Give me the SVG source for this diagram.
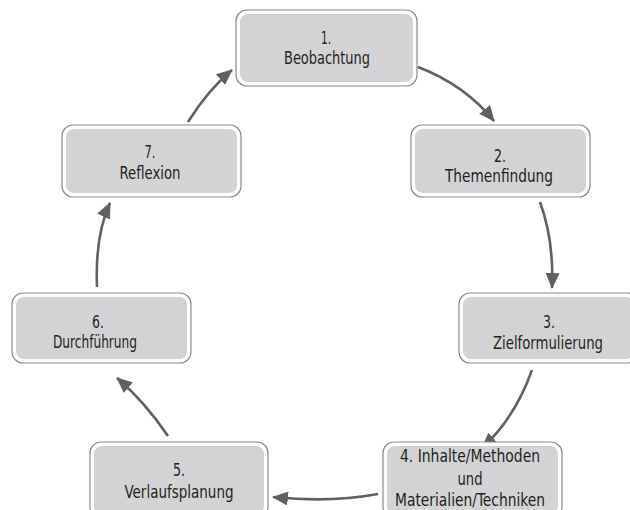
<svg xmlns="http://www.w3.org/2000/svg" width="630" height="510" viewBox="0 0 630 510">
<defs>
<marker id="ah" markerUnits="userSpaceOnUse" markerWidth="16" markerHeight="14" refX="15" refY="7" orient="auto">
<path d="M0,0 L16,7 L0,14 Z" fill="#606062"/>
</marker>
<style>
.o{fill:#ffffff;stroke:#8c8c8c;stroke-width:1.2}
.i{fill:#d3d3d5}
.t{font-family:"DejaVu Sans Condensed","DejaVu Sans",sans-serif;font-stretch:condensed;font-size:17px;fill:#231f20;text-anchor:middle}
.c{fill:none;stroke:#606062;stroke-width:2.6;marker-end:url(#ah)}
</style>
</defs>
<rect width="630" height="510" fill="#ffffff"/>
<g id="connectors">
<path class="c" d="M418,67 Q465,85 494,121"/>
<path class="c" d="M540,202 Q554,240 552,288"/>
<path class="c" d="M532,370 Q515,418 482,448"/>
<path class="c" d="M378,494 Q330,503 273,497"/>
<path class="c" d="M168,436 Q145,402 117,378"/>
<path class="c" d="M97,287 Q95,235 110,203"/>
<path class="c" d="M188,122 Q208,90 232,70"/>
</g>
<g id="n1">
<rect class="o" x="236" y="10" width="181" height="76" rx="11"/>
<rect class="i" x="240" y="14" width="173" height="68" rx="8"/>
<text class="t" x="326" y="44" textLength="10" lengthAdjust="spacingAndGlyphs">1.</text>
<text class="t" x="327" y="64" textLength="86" lengthAdjust="spacingAndGlyphs">Beobachtung</text>
</g>
<g id="n2">
<rect class="o" x="411" y="125" width="179" height="72" rx="11"/>
<rect class="i" x="415" y="129" width="171" height="64" rx="8"/>
<text class="t" x="500" y="162" textLength="12" lengthAdjust="spacingAndGlyphs">2.</text>
<text class="t" x="499" y="182" textLength="108" lengthAdjust="spacingAndGlyphs">Themenfindung</text>
</g>
<g id="n3">
<rect class="o" x="459" y="293" width="179" height="70" rx="11"/>
<rect class="i" x="463" y="297" width="171" height="62" rx="8"/>
<text class="t" x="549" y="328" textLength="12" lengthAdjust="spacingAndGlyphs">3.</text>
<text class="t" x="548" y="349" textLength="110" lengthAdjust="spacingAndGlyphs">Zielformulierung</text>
</g>
<g id="n4">
<rect class="o" x="383" y="442" width="179" height="76" rx="11"/>
<rect class="i" x="387" y="446" width="171" height="68" rx="8"/>
<text class="t" x="470" y="462" textLength="140" lengthAdjust="spacingAndGlyphs">4. Inhalte/Methoden</text>
<text class="t" x="470" y="485" textLength="25" lengthAdjust="spacingAndGlyphs">und</text>
<text class="t" x="470" y="506" textLength="150" lengthAdjust="spacingAndGlyphs">Materialien/Techniken</text>
</g>
<g id="n5">
<rect class="o" x="90" y="442" width="178" height="76" rx="11"/>
<rect class="i" x="94" y="446" width="170" height="68" rx="8"/>
<text class="t" x="179" y="476" textLength="12" lengthAdjust="spacingAndGlyphs">5.</text>
<text class="t" x="179" y="498" textLength="109" lengthAdjust="spacingAndGlyphs">Verlaufsplanung</text>
</g>
<g id="n6">
<rect class="o" x="12" y="293" width="179" height="70" rx="11"/>
<rect class="i" x="16" y="297" width="171" height="62" rx="8"/>
<text class="t" x="98" y="328" textLength="12" lengthAdjust="spacingAndGlyphs">6.</text>
<text class="t" x="95" y="348" textLength="84" lengthAdjust="spacingAndGlyphs">Durchführung</text>
</g>
<g id="n7">
<rect class="o" x="62" y="125" width="179" height="72" rx="11"/>
<rect class="i" x="66" y="129" width="171" height="64" rx="8"/>
<text class="t" x="150" y="158" textLength="11" lengthAdjust="spacingAndGlyphs">7.</text>
<text class="t" x="150" y="179" textLength="61" lengthAdjust="spacingAndGlyphs">Reflexion</text>
</g>
</svg>
